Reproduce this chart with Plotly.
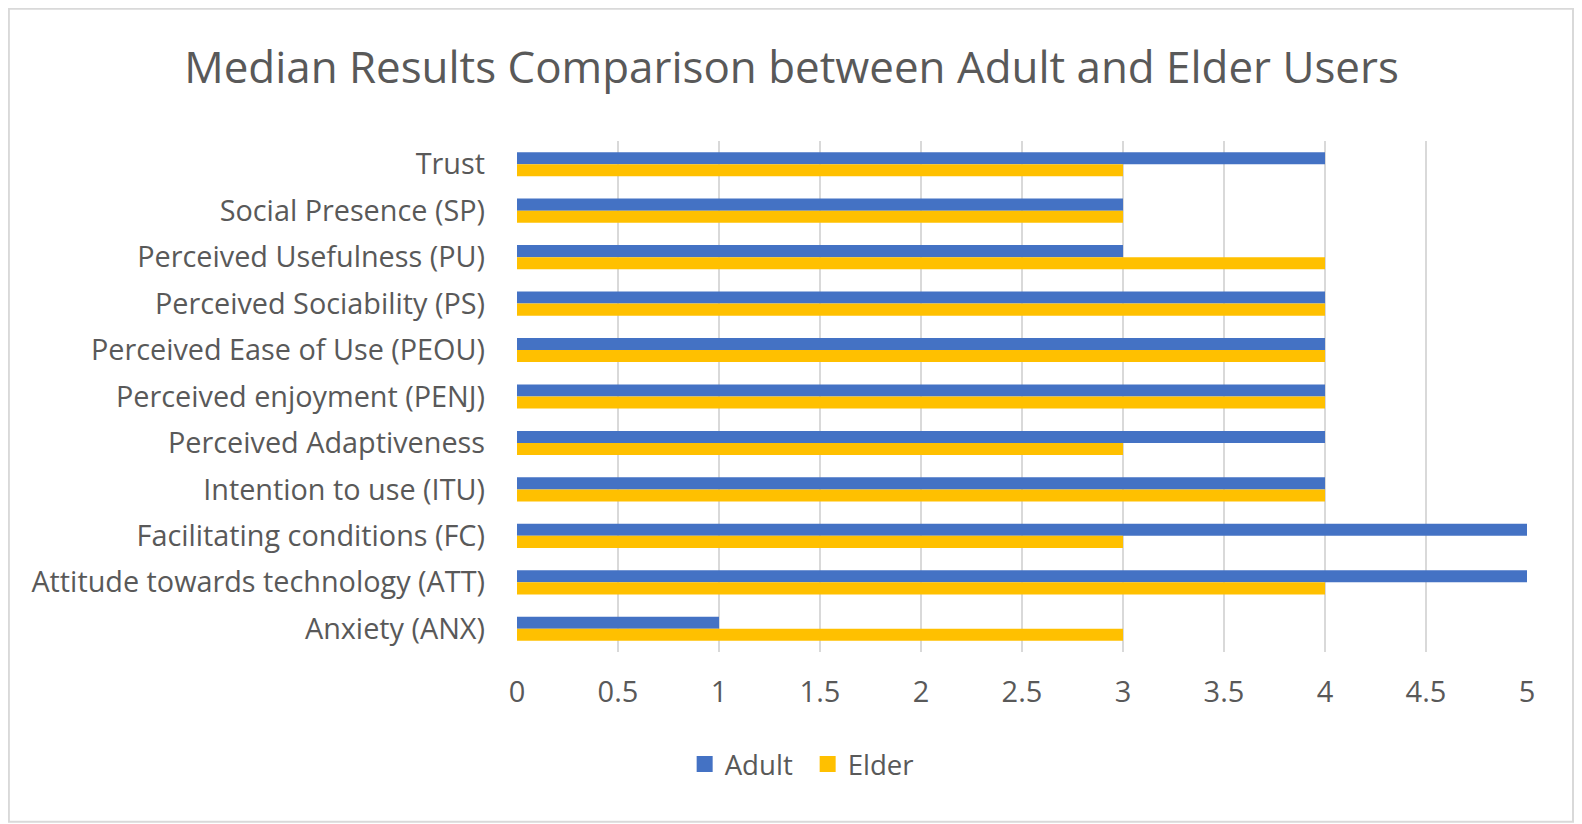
import plotly.graph_objects as go

categories = ["Trust", "Social Presence (SP)", "Perceived Usefulness (PU)",
              "Perceived Sociability (PS)", "Perceived Ease of Use (PEOU)",
              "Perceived enjoyment (PENJ)", "Perceived Adaptiveness",
              "Intention to use (ITU)", "Facilitating conditions (FC)",
              "Attitude towards technology (ATT)", "Anxiety (ANX)"]
adult = [4, 3, 3, 4, 4, 4, 4, 4, 5, 5, 1]
elder = [3, 3, 4, 4, 4, 4, 3, 4, 3, 4, 3]
x_ticks = [0, 0.5, 1, 1.5, 2, 2.5, 3, 3.5, 4, 4.5, 5]
x_tick_labels = ["0", "0.5", "1", "1.5", "2", "2.5", "3", "3.5", "4", "4.5", "5"]

FONT = "Open Sans"
GREY = "#595959"
BLUE = "#4472C4"
GOLD = "#FFC000"

K = 0.9905          # page px -> picture px
M = 8               # default body margin


def px(r):
    """picture coordinate -> figure pixel"""
    return r / K - M


W, H = 1566, 815
L = px(512)
R = px(1512)
T = px(140)
B = px(646)
PW, PH = R - L, B - T

fig = go.Figure()
fig.add_trace(go.Bar(y=categories, x=adult, name="Adult", orientation="h",
                     marker=dict(color=BLUE, line=dict(width=0)), showlegend=False))
fig.add_trace(go.Bar(y=categories, x=elder, name="Elder", orientation="h",
                     marker=dict(color=GOLD, line=dict(width=0)), showlegend=False))
# legend entries with larger square swatches
fig.add_trace(go.Scatter(x=[None], y=[None], mode="markers", name="Adult",
                         marker=dict(symbol="square", size=18, color=BLUE)))
fig.add_trace(go.Scatter(x=[None], y=[None], mode="markers", name="Elder",
                         marker=dict(symbol="square", size=18, color=GOLD)))

fig.update_layout(
    width=W, height=H,
    paper_bgcolor="white", plot_bgcolor="white",
    barmode="group", bargap=0.48, bargroupgap=0,
    margin=dict(l=L, r=W - R, t=T, b=H - B),
    title=dict(text="Median Results Comparison between Adult and Elder Users",
               xref="container", x=px(784) / W, xanchor="center",
               yref="container", y=1 - px(67) / H, yanchor="middle",
               font=dict(family=FONT, size=43.9, color=GREY)),
    font=dict(family=FONT, color=GREY),
    legend=dict(orientation="h", x=(676.5 - L) / PW, xanchor="left",
                y=-(px(757) - B) / PH, yanchor="middle",
                font=dict(family=FONT, size=27.6, color=GREY), itemwidth=30,
                entrywidth=78, entrywidthmode="pixels",
                traceorder="normal"),
    xaxis=dict(range=[0, 5], tickvals=x_ticks, ticktext=x_tick_labels,
               showgrid=True, gridcolor="#d9d9d9", gridwidth=2,
               zeroline=False, showline=False, ticks="",
               tickfont=dict(family=FONT, size=29, color=GREY),
               ticklabelstandoff=20),
    yaxis=dict(autorange="reversed", showgrid=False, zeroline=False, showline=False,
               ticks="", tickfont=dict(family=FONT, size=28.8, color=GREY),
               ticklabelstandoff=31),
    shapes=[dict(type="rect", xref="paper", yref="paper",
                 x0=(1 - L) / PW, x1=(W - 1.5 - L) / PW,
                 y0=(B - (H - 1.2)) / PH, y1=(B - px(9)) / PH,
                 line=dict(color="#d9d9d9", width=2), fillcolor="rgba(0,0,0,0)",
                 layer="below")],
)

fig.write_html("out.html")
